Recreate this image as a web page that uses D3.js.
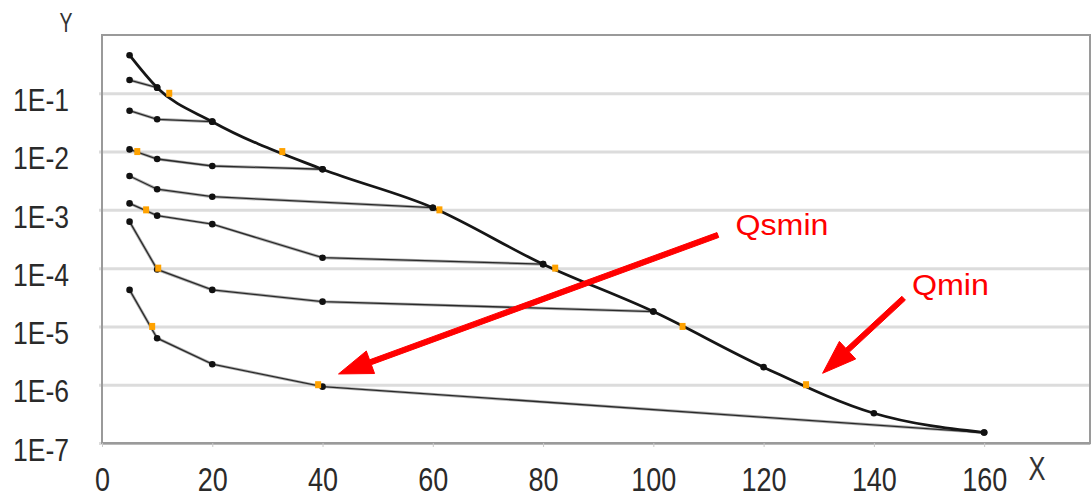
<!DOCTYPE html>
<html>
<head>
<meta charset="utf-8">
<script src="https://cdn.jsdelivr.net/npm/d3@7"></script>
<style>
  body { margin: 0; background: #fff; }
  text { font-family: "Liberation Sans", Arial, sans-serif; }
</style>
</head>
<body>
<script>
// main curve (thick line)
var mainX = [5, 10, 20, 40, 60, 80, 100, 120, 140, 160];
var mainY = [0.45, 0.125, 0.0326, 4.97e-3, 1.09e-3, 1.17e-4, 1.8e-5, 2.0e-6, 3.24e-7, 1.51e-7];

// thin curves, each ends on the main curve
var s1X = [5, 10],               s1Y = [0.169, 0.125];
var s2X = [5, 10, 20],           s2Y = [0.0503, 0.0358, 0.0326];
var s3X = [5, 10, 20, 40],       s3Y = [0.0109, 7.46e-3, 5.66e-3, 4.97e-3];
var s4X = [5, 10, 20, 60],       s4Y = [3.81e-3, 2.26e-3, 1.68e-3, 1.09e-3];
var s5X = [5, 10, 20, 40, 80],   s5Y = [1.29e-3, 7.95e-4, 5.69e-4, 1.51e-4, 1.17e-4];
var s6X = [5, 10, 20, 40, 100],  s6Y = [6.28e-4, 9.5e-5, 4.23e-5, 2.66e-5, 1.8e-5];
var s7X = [5, 10, 20, 40, 160],  s7Y = [4.23e-5, 6.28e-6, 2.25e-6, 9.27e-7, 1.51e-7];

// orange markers
var qminX  = [12.2, 32.7, 61.2, 82.2, 105.3, 127.7];
var qminY  = [1e-1, 1e-2, 1e-3, 1e-4, 1e-5, 1e-6];
var qsminX = [6.4, 8.0, 10.2, 9.1, 39.2];
var qsminY = [1e-2, 1e-3, 1e-4, 1e-5, 1e-6];

var xTicks = [0, 20, 40, 60, 80, 100, 120, 140, 160];
var yTicks = [1e-1, 1e-2, 1e-3, 1e-4, 1e-5, 1e-6, 1e-7];
var yTickLabels = ["1E-1", "1E-2", "1E-3", "1E-4", "1E-5", "1E-6", "1E-7"];

var svg_width = 1091, svg_height = 500;
var plotL = 102, plotR = 1090, plotT = 35, plotB = 443;

var svg = d3.select('body')
  .append('svg')
  .attr('width', svg_width)
  .attr('height', svg_height);

var xScale = d3.scaleLinear().domain([0, 179.2]).range([plotL, plotR]);
var yScale = d3.scaleLog().domain([1e-7, 1]).range([plotB, plotT]);

// y axis with gridlines
var yAxis = d3.axisLeft(yScale)
  .tickValues(yTicks)
  .tickFormat(function(d, i) { return yTickLabels[i]; })
  .tickSizeInner(-(plotR - plotL))
  .tickSizeOuter(0);
var gy = svg.append('g')
  .attr('transform', 'translate(' + plotL + ',0)')
  .call(yAxis);
gy.select('.domain').remove();
gy.selectAll('.tick line')
  .attr('x1', -3)
  .attr('stroke', '#dcdcdc')
  .attr('stroke-width', 3);
gy.selectAll('.tick text')
  .attr('x', -33)
  .attr('y', 6)
  .attr('dy', '0.35em')
  .attr('fill', '#2a2a2a')
  .attr('font-size', 32)
  .attr('textLength', 56)
  .attr('lengthAdjust', 'spacingAndGlyphs');

// plot frame
svg.append('rect')
  .attr('x', plotL).attr('y', plotT)
  .attr('width', plotR - plotL).attr('height', plotB - plotT)
  .attr('fill', 'none')
  .attr('stroke', '#9a9a9a')
  .attr('stroke-width', 2);

// x axis
var xAxis = d3.axisBottom(xScale)
  .tickValues(xTicks)
  .tickSizeInner(4)
  .tickSizeOuter(0)
  .tickPadding(21);
var gx = svg.append('g')
  .attr('transform', 'translate(0,' + plotB + ')')
  .call(xAxis);
gx.select('.domain').attr('stroke', '#9a9a9a').attr('stroke-width', 2);
gx.selectAll('.tick line').attr('stroke', '#c8c8c8');
gx.selectAll('.tick text')
  .attr('fill', '#2a2a2a')
  .attr('font-size', 33)
  .attr('textLength', function(d) { return String(d).length * 15; })
  .attr('lengthAdjust', 'spacingAndGlyphs');

// axis names
svg.append('text').attr('x', 66).attr('y', 32).attr('text-anchor', 'middle')
  .attr('font-size', 28).attr('fill', '#333')
  .attr('textLength', 13).attr('lengthAdjust', 'spacingAndGlyphs').text('Y');
svg.append('text').attr('x', 1037).attr('y', 480).attr('text-anchor', 'middle')
  .attr('font-size', 34).attr('fill', '#333')
  .attr('textLength', 17).attr('lengthAdjust', 'spacingAndGlyphs').text('X');

var line = d3.line()
  .x(function(d) { return xScale(d[0]); })
  .y(function(d) { return yScale(d[1]); });

var thin = [[s1X, s1Y], [s2X, s2Y], [s3X, s3Y], [s4X, s4Y], [s5X, s5Y], [s6X, s6Y], [s7X, s7Y]];
var thinData = thin.map(function(s) { return d3.zip(s[0], s[1]); });
var mainData = d3.zip(mainX, mainY);

svg.selectAll('path.thin-shadow')
  .data(thinData).enter().append('path')
  .attr('class', 'thin-shadow')
  .attr('d', line)
  .attr('fill', 'none')
  .attr('stroke', '#b0b0b0')
  .attr('stroke-width', 3);
svg.selectAll('path.thin')
  .data(thinData).enter().append('path')
  .attr('class', 'thin')
  .attr('d', line)
  .attr('fill', 'none')
  .attr('stroke', '#2a2a2a')
  .attr('stroke-width', 1.3);

svg.append('path')
  .datum(mainData)
  .attr('d', line.curve(d3.curveMonotoneX))
  .attr('fill', 'none')
  .attr('stroke', '#161616')
  .attr('stroke-width', 2.8)
  .attr('stroke-linejoin', 'round');

// black points
var pts = d3.merge(thinData).concat(mainData);
svg.selectAll('circle.pt')
  .data(pts).enter().append('circle')
  .attr('class', 'pt')
  .attr('cx', function(d) { return xScale(d[0]); })
  .attr('cy', function(d) { return yScale(d[1]); })
  .attr('r', 3.3)
  .attr('fill', '#111');

// orange points
var orange = d3.zip(qminX, qminY).concat(d3.zip(qsminX, qsminY));
svg.selectAll('rect.or')
  .data(orange).enter().append('rect')
  .attr('class', 'or')
  .attr('x', function(d) { return xScale(d[0]) - 3; })
  .attr('y', function(d) { return yScale(d[1]) - 3.5; })
  .attr('width', 6)
  .attr('height', 7)
  .attr('fill', '#ffa200');

// red arrows, positions in data units
function arrow(x0, y0, x1, y1) {
  var ax = xScale(x0), ay = yScale(y0), bx = xScale(x1), by = yScale(y1);
  var dx = bx - ax, dy = by - ay, len = Math.sqrt(dx * dx + dy * dy);
  var ux = dx / len, uy = dy / len, px = -uy, py = ux;
  var hl = 34, hw = 12, sw = 2.6;
  var cx = bx - ux * hl, cy = by - uy * hl;
  var p = [
    [ax + px * sw, ay + py * sw], [cx + px * sw, cy + py * sw], [cx + px * hw, cy + py * hw],
    [bx, by],
    [cx - px * hw, cy - py * hw], [cx - px * sw, cy - py * sw], [ax - px * sw, ay - py * sw]
  ];
  svg.append('path')
    .attr('d', 'M' + p.join('L') + 'Z')
    .attr('fill', '#ff0000')
    .attr('stroke', '#ff0000')
    .attr('stroke-width', 1)
    .attr('stroke-linejoin', 'round');
}
arrow(111.7, 3.7e-4, 42.9, 1.53e-6);
arrow(145.4, 3.05e-5, 130.7, 1.57e-6);

svg.append('text')
  .attr('x', xScale(114.9)).attr('y', yScale(3.7e-4))
  .attr('font-size', 30).attr('fill', '#ff0000')
  .attr('textLength', 93).attr('lengthAdjust', 'spacingAndGlyphs')
  .text('Qsmin');
svg.append('text')
  .attr('x', xScale(146.9)).attr('y', yScale(3.5e-5))
  .attr('font-size', 30).attr('fill', '#ff0000')
  .attr('textLength', 77).attr('lengthAdjust', 'spacingAndGlyphs')
  .text('Qmin');
</script>
</body>
</html>
